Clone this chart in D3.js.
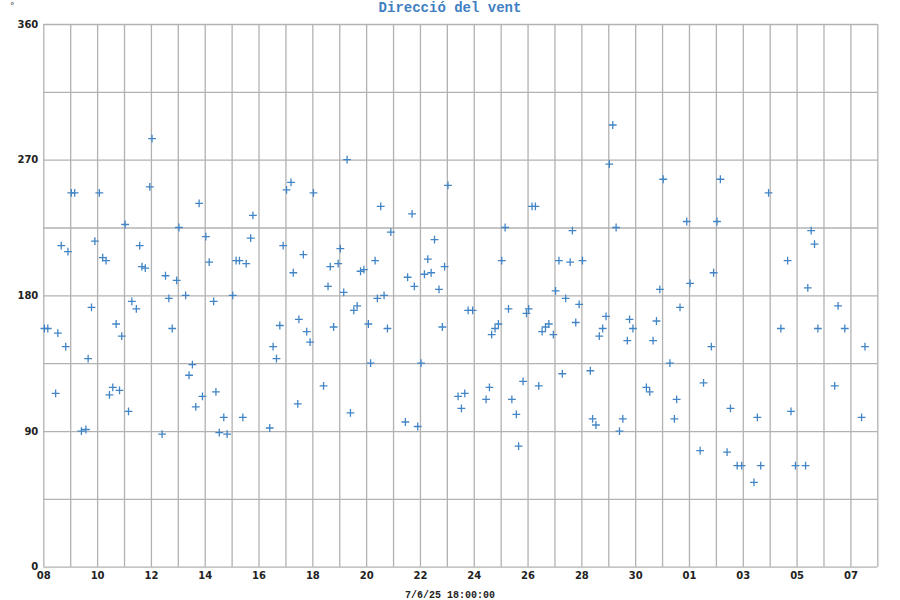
<!DOCTYPE html>
<html><head><meta charset="utf-8">
<script src="https://cdn.jsdelivr.net/npm/d3@7"></script>
<style>
body{margin:0;background:#fff;}
svg{display:block;}
</style></head>
<body>
<svg id="c" width="900" height="600"></svg>
<script>
// hours since the first grid day (08) and wind direction in degrees
const hours = [1,4,11,13,16,20,22,25,28,34,38,40,43,46,50,53,56,59,62,65,68,70,73,76,79,83,86,88,91,95,97,106,109,112,115,119,121,127,130,133,136,139,142,145,148,152,154,157,161,164,169,172,175,178,181,185,187,202,205,208,211,214,217,221,223,227,228,
232,235,238,241,250,254,256,259,263,265,268,271,274,277,280,283,286,290,292,296,298,301,304,307,310,323,325,329,331,334,337,340,343,346,349,353,356,358,361,370,373,376,379,383,395,398,400,403,406,409,412,415,418,422,424,428,431,433,436,439,442,445,448,451,455,457,460,463,466,470,472,475,478,481,488,490,493,496,
499,502,505,508,511,514,517,521,523,526,538,541,544,547,550,553,559,563,565,568,574,577,586,589,596,598,601,604,610,613,619,623,634,637,640,647,658,664,667,671,680,682,685,688,691,706,709,715,730,733];
const direction = [158,158,115,155,213,146,209,248,248,90,91,138,172,216,248,205,203,114,119,161,117,153,227,103,176,171,213,199,198,252,284,88,193,178,158,190,225,180,127,134,106,241,113,219,202,176,116,89,99,88,180,203,203,99,201,218,233,92,146,138,160,213,250,255,195,108,164,
207,156,149,248,120,186,199,159,201,211,182,270,102,170,173,196,197,161,135,203,178,239,180,158,222,96,192,234,186,93,135,194,204,195,217,184,159,199,253,113,105,115,170,170,111,119,154,158,161,203,225,171,111,101,80,123,168,171,239,239,120,156,159,161,154,183,203,128,178,202,223,162,174,203,130,98,94,153,
158,166,267,293,225,90,98,150,164,158,119,116,150,163,184,257,135,98,111,172,229,188,77,122,146,195,229,257,76,105,67,67,56,99,67,248,158,203,103,67,67,185,223,214,158,120,173,158,99,146];
const dayLabels = ["08","10","12","14","16","18","20","22","24","26","28","30","01","03","05","07"];
const yTicks = [0,90,180,270,360];
const yGrid = [0,45,90,135,180,225,270,315,360];
const totalDays = 31;
const title = "Direcció del vent";
const xTitle = "7/6/25 18:00:00";
const unit = "°";

const svg = d3.select("#c");
const L = 43.3, R = 877.3, T = 24, B = 566.7;
const x = d3.scaleLinear().domain([0, totalDays*24]).range([L, R]);
const y = d3.scaleLinear().domain([0, 360]).range([B, T]);

// grid
const gridColor = "#b2b2b2";
const gx = svg.append("g").attr("transform", `translate(0,${B})`)
  .call(d3.axisBottom(x).tickValues(d3.range(0, totalDays*24+1, 24)).tickSize(-(B-T)).tickFormat(""));
gx.select(".domain").remove();
gx.selectAll("line").attr("stroke", gridColor).attr("stroke-width", 1.3);
const gy = svg.append("g").attr("transform", `translate(${L},0)`)
  .call(d3.axisLeft(y).tickValues(yGrid).tickSize(-(R-L)).tickFormat(""));
gy.select(".domain").remove();
gy.selectAll("line").attr("stroke", gridColor).attr("stroke-width", 1.3);

// tick labels
const ax = svg.append("g").attr("transform", `translate(0,${B})`)
  .call(d3.axisBottom(x).tickValues(dayLabels.map((d,i)=>i*48)).tickSize(0).tickPadding(5)
    .tickFormat((d,i)=>dayLabels[i]));
ax.select(".domain").remove();
ax.selectAll("text").attr("font-family","DejaVu Sans, Verdana, sans-serif").attr("font-size",10)
  .attr("font-weight","bold").attr("fill","#222");
const ay = svg.append("g").attr("transform", `translate(${L},0)`)
  .call(d3.axisLeft(y).tickValues(yTicks).tickSize(0).tickPadding(5));
ay.select(".domain").remove();
ay.selectAll("text").attr("font-family","DejaVu Sans, Verdana, sans-serif").attr("font-size",10)
  .attr("font-weight","bold").attr("fill","#222");

// points as crosses
const col = "#4285c6";
const pts = svg.append("g");
const s = 3.9;
hours.forEach((h,i)=>{
  const cx = x(h), cy = y(direction[i]);
  pts.append("path").attr("d", `M${cx-s},${cy}H${cx+s}M${cx},${cy-s}V${cy+s}`)
    .attr("stroke", col).attr("stroke-width", 1.3).attr("fill","none");
});

svg.append("text").attr("x", 450).attr("y", 12).attr("text-anchor","middle")
  .attr("font-family","Liberation Mono, Courier New, monospace").attr("font-weight","bold")
  .attr("font-size",14).attr("fill","#3f80c2").text(title);
svg.append("text").attr("x", 450).attr("y", 598).attr("text-anchor","middle")
  .attr("font-family","Liberation Mono, Courier New, monospace").attr("font-weight","bold")
  .attr("font-size",10).attr("fill","#222").text(xTitle);
svg.append("text").attr("x", 10).attr("y", 9)
  .attr("font-family","DejaVu Sans, sans-serif").attr("font-size",9).attr("fill","#444").text(unit);
</script>
</body></html>
